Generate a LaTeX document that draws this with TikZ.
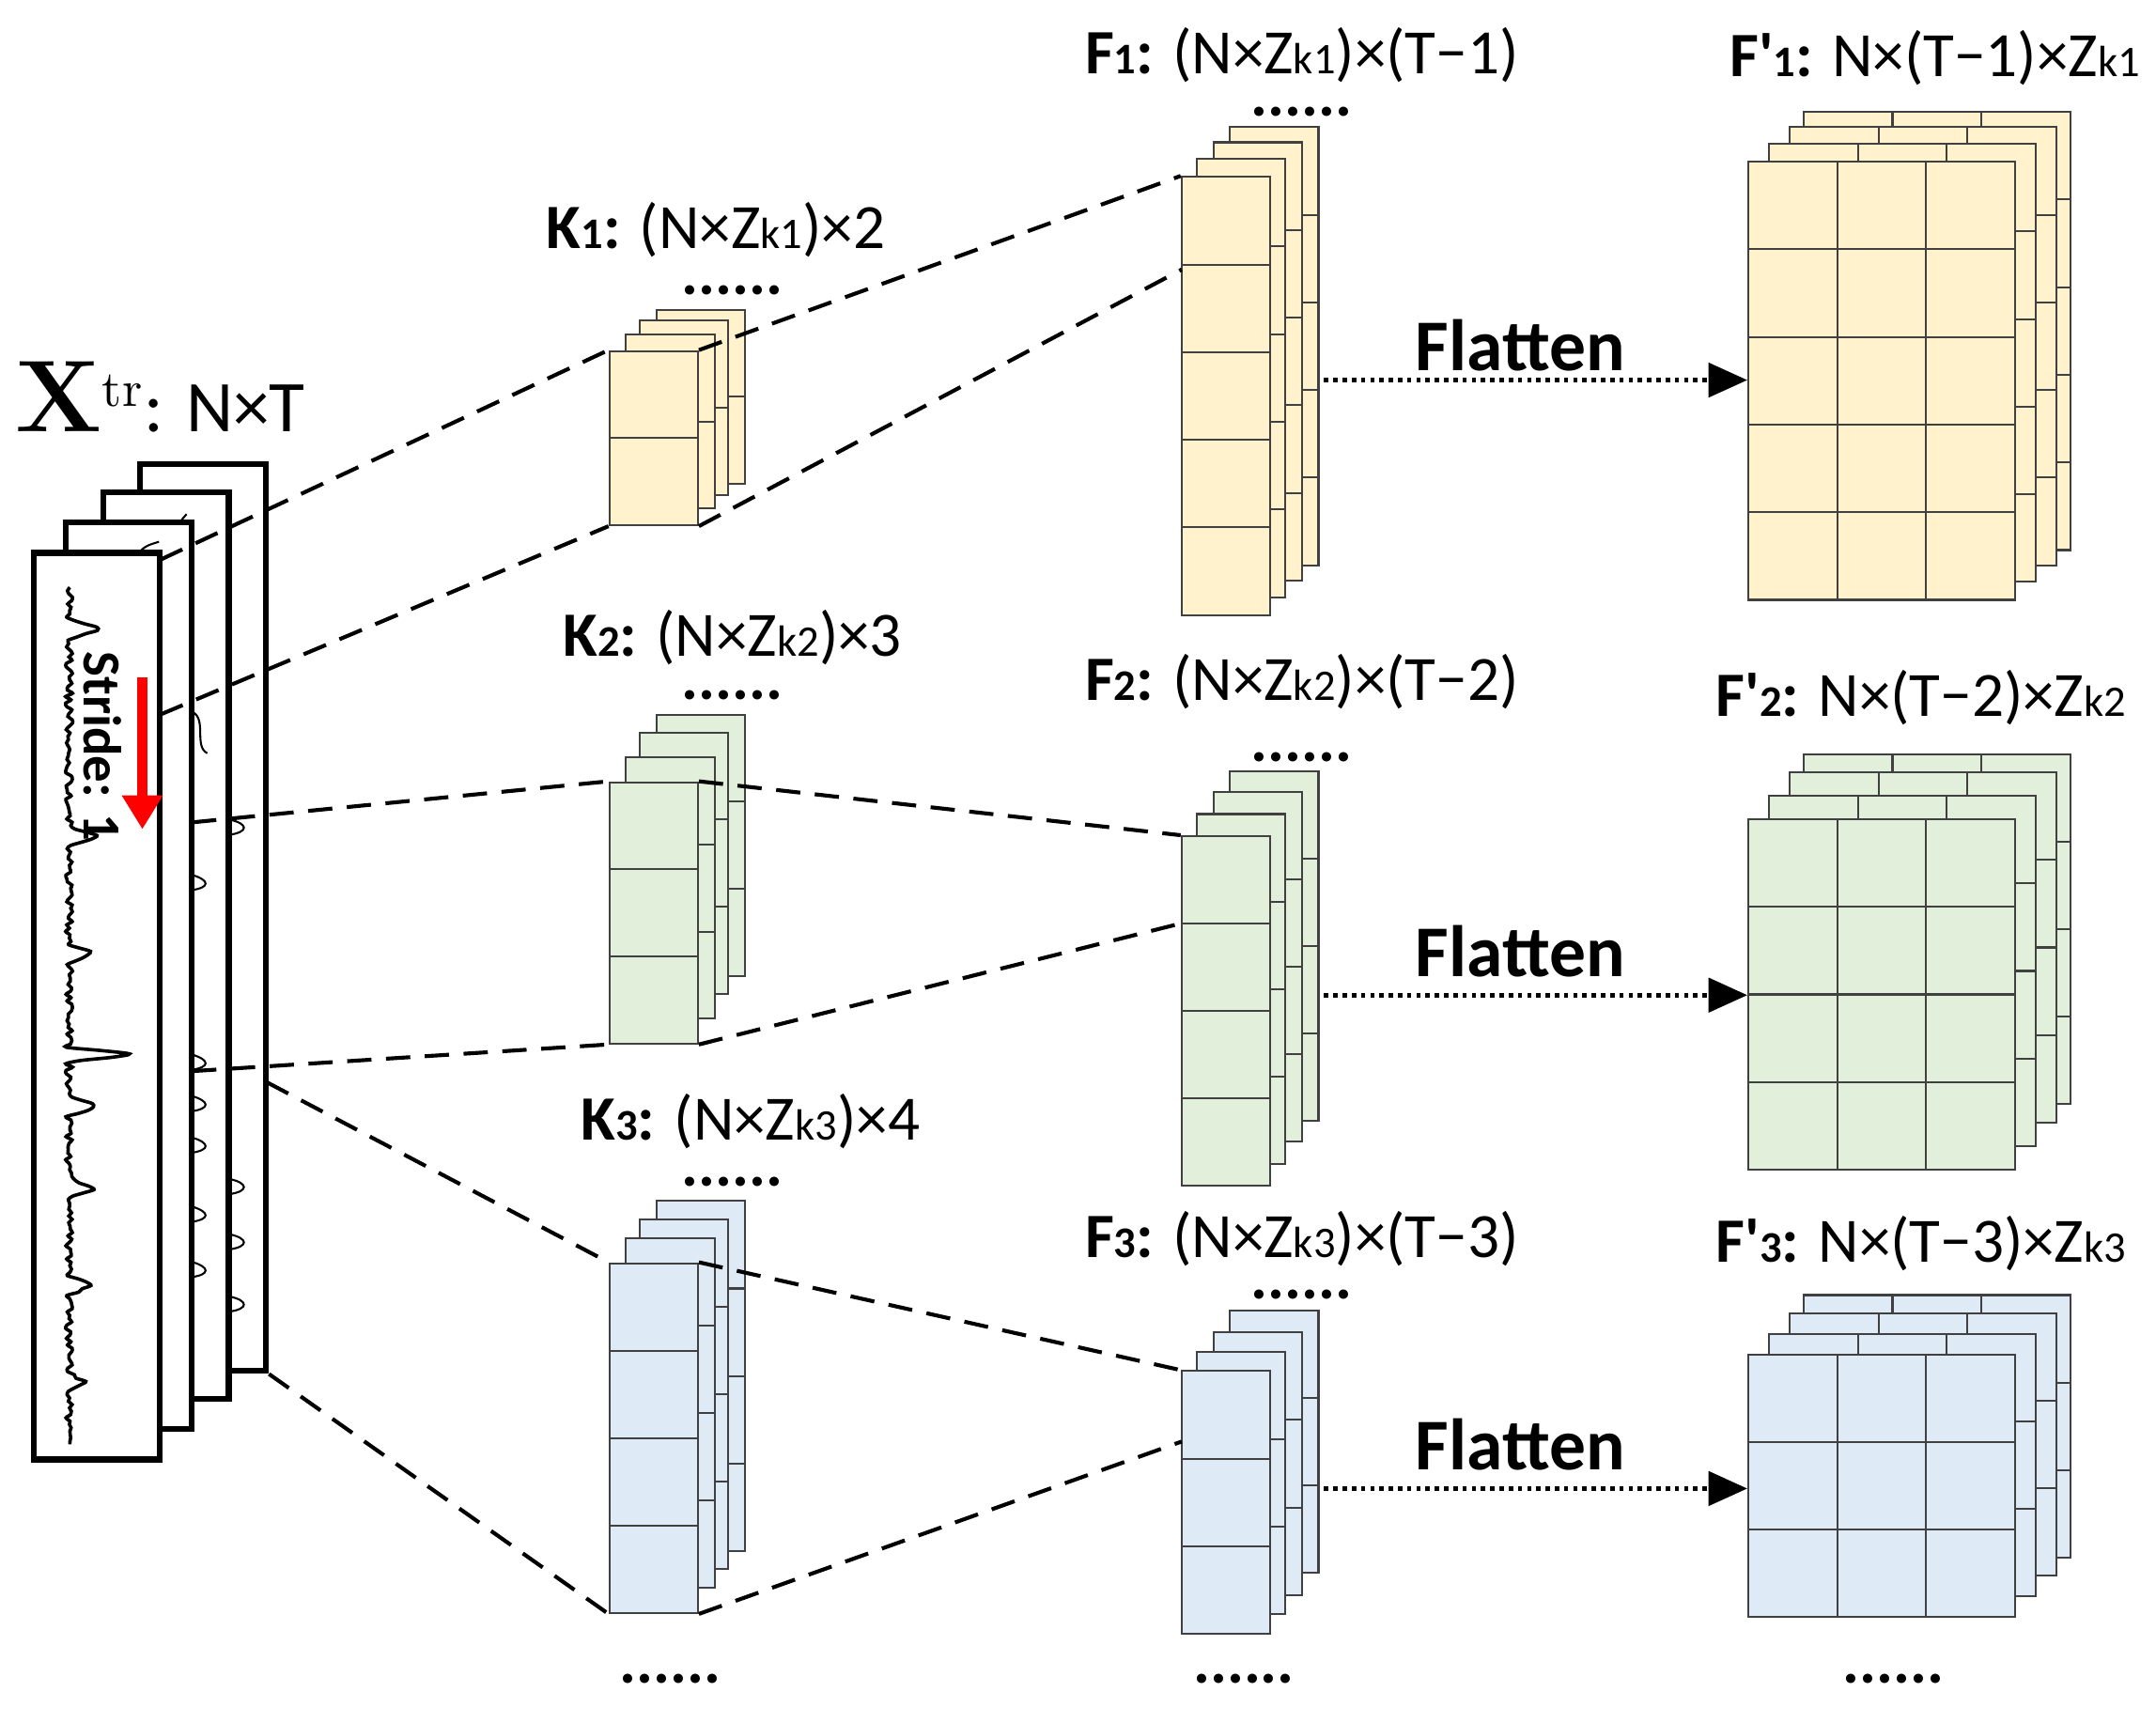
\documentclass[tikz,border=0pt]{standalone}
\usepackage[no-math]{fontspec}
\setmainfont{Carlito}
\newfontfamily\lmr{Latin Modern Roman}
\usetikzlibrary{arrows.meta}

\definecolor{kyellow}{HTML}{FFF2CC}
\definecolor{kgreen}{HTML}{E2EFDA}
\definecolor{kblue}{HTML}{DEEAF6}

\newcommand{\lowsub}[1]{{\fontsize{9}{10}\selectfont #1}}
\newcommand{\pr}{\textquotesingle}

\tikzset{
  page/.style={draw, line width=1.2pt, fill=white, inner sep=0pt, minimum width=9.1mm, minimum height=65.6mm},
  cell/.style={draw=black!75, line width=0.4pt},
  lbl/.style={font=\fontsize{13}{15}\selectfont, inner sep=0pt},
  dots/.style={font=\bfseries\fontsize{13}{15}\selectfont, inner sep=0pt},
  flat/.style={font=\bfseries\fontsize{15}{17}\selectfont, inner sep=0pt},
  conn/.style={line width=0.8pt, dash pattern=on 5pt off 3pt},
  flatarrow/.style={densely dotted, line width=0.9pt, -{Triangle[length=8pt,width=7pt]}}
}

% stack of cell sheets: name, x, y, w, h, cols, rows, fill, offsets
\newcommand{\sheetstack}[9]{%
  \foreach \dx/\dy in {#9}{
    \fill[#8] (#2+\dx,#3+\dy) rectangle ++(#4,#5);
    \foreach \c in {1,...,#6}
      \foreach \r in {1,...,#7}
        \draw[cell] ({#2+\dx+(\c-1)*#4/#6},{#3+\dy+(\r-1)*#5/#7}) rectangle ++({#4/#6},{#5/#7});
  }
  \node[inner sep=0pt, minimum width=#4*0.1mm, minimum height=#5*0.1mm] (#1) at ({#2+#4/2},{#3+#5/2}) {};
}

\begin{document}
\begin{tikzpicture}[x=0.1mm, y=-0.1mm]
\useasboundingbox (0,0) rectangle (1560,1246);

% input pages
\node[page] (x4) at (147,664) {};
\node[page] (x3) at (120,684) {};
\draw[thin] (120,400) .. controls (128,380) .. (135,372);
\foreach \yy in {600,860,900,945}
  \draw[thin] (166,\yy-7) .. controls (180,\yy-4) and (180,\yy+2) .. (166,\yy+4);
\node[page] (x2) at (93,706) {};
\draw[thin] (95,405) .. controls (105,395) .. (115,392);
\draw[thin] (139,515) .. controls (150,520) and (140,540) .. (150,545);
\foreach \yy in {640,770,800,830,880,920}
  \draw[thin] (139,\yy-7) .. controls (152,\yy-3) and (152,\yy+2) .. (139,\yy+4);
\node[page] (x1) at (70,728) {};
\pgfmathsetseed{7}
\draw[line width=0.7pt] plot[domain=425:1045, samples=260, smooth]
  ({50+2.5*rand+22*max(0,1-abs(\x-455)/7)+20*max(0,1-abs(\x-605)/7)
    +50*max(0,1-abs(\x-763)/5)+18*max(0,1-abs(\x-690)/7)+22*max(0,1-abs(\x-800)/7)
    +20*max(0,1-abs(\x-860)/7)+18*max(0,1-abs(\x-930)/7)+12*max(0,1-abs(\x-1000)/7)}, \x);
\node[rotate=-90, font=\bfseries\fontsize{11}{13}\selectfont, inner sep=0pt] (stride) at (74,540) {Stride: 1};
\coordinate (s0) at (103,490);
\coordinate (s1) at (103,600);
\draw[red, line width=2.2pt, -{Triangle[length=7pt,width=8pt]}] (s0) -- (s1);
\node[inner sep=0pt, font=\fontsize{15}{17}\selectfont] (xl) at (116,287)
  {{\lmr\bfseries\fontsize{21}{23}\selectfont X}\textsuperscript{\lmr tr}: N×T};

% kernels
\sheetstack{k1}{441}{254}{64}{126}{1}{2}{kyellow}{34/-30,22/-22,12/-12,0/0}
\sheetstack{k2}{441}{566}{64}{189}{1}{3}{kgreen}{34/-49,22/-36,12/-18,0/0}
\sheetstack{k3}{441}{914}{64}{253}{1}{4}{kblue}{34/-45,22/-32,12/-18,0/0}
\node[lbl] (k1l) at (518,166) {\textbf{K\lowsub{1}:} (N×Z\lowsub{k1})×2};
\node[lbl] (k2l) at (530,461) {\textbf{K\lowsub{2}:} (N×Z\lowsub{k2})×3};
\node[lbl] (k3l) at (543,811) {\textbf{K\lowsub{3}:} (N×Z\lowsub{k3})×4};
\node[dots] (k1d) at (530,210) {......};
\node[dots] (k2d) at (530,503) {......};
\node[dots] (k3d) at (530,855) {......};
\node[dots] (kd) at (485,1215) {......};

% feature maps
\sheetstack{f1}{855}{128}{64}{317}{1}{5}{kyellow}{35/-36,23/-25,11/-13,0/0}
\sheetstack{f2}{855}{605}{64}{253}{1}{4}{kgreen}{35/-47,23/-32,11/-16,0/0}
\sheetstack{f3}{855}{992}{64}{190}{1}{3}{kblue}{35/-44,23/-28,11/-14,0/0}
\node[lbl] (f1l) at (942,40) {\textbf{F\lowsub{1}:} (N×Z\lowsub{k1})×(T−1)};
\node[lbl] (f2l) at (942,493) {\textbf{F\lowsub{2}:} (N×Z\lowsub{k2})×(T−2)};
\node[lbl] (f3l) at (942,896) {\textbf{F\lowsub{3}:} (N×Z\lowsub{k3})×(T−3)};
\node[dots] (f1d) at (942,81) {......};
\node[dots] (f2d) at (942,548) {......};
\node[dots] (f3d) at (942,937) {......};
\node[dots] (fd) at (900,1215) {......};

% flattened maps
\sheetstack{g1}{1265}{117}{193}{317}{3}{5}{kyellow}{40/-36,30/-25,15/-13,0/0}
\sheetstack{g2}{1265}{593}{193}{253}{3}{4}{kgreen}{40/-47,30/-34,15/-17,0/0}
\sheetstack{g3}{1265}{980}{193}{190}{3}{3}{kblue}{40/-43,30/-30,15/-15,0/0}
\node[lbl] (g1l) at (1400,42) {\textbf{F\pr\lowsub{1}:} N×(T−1)×Z\lowsub{k1}};
\node[lbl] (g2l) at (1390,505) {\textbf{F\pr\lowsub{2}:} N×(T−2)×Z\lowsub{k2}};
\node[lbl] (g3l) at (1390,900) {\textbf{F\pr\lowsub{3}:} N×(T−3)×Z\lowsub{k3}};
\node[dots] (gd) at (1370,1215) {......};

% flatten arrows
\node[flat] (fl1) at (1100,250) {Flatten};
\node[flat] (fl2) at (1100,688) {Flatten};
\node[flat] (fl3) at (1100,1045) {Flatten};
\coordinate (a1) at (958,275);
\coordinate (a2) at (958,720);
\coordinate (a3) at (958,1077);
\draw[flatarrow] (a1) -- (g1.west |- a1);
\draw[flatarrow] (a2) -- (g2.west |- a2);
\draw[flatarrow] (a3) -- (g3.west |- a3);

% receptive field lines
\coordinate (xa) at (116,405);
\coordinate (xb) at (116,517);
\coordinate (xc) at (139,595);
\coordinate (xd) at (139,775);
\coordinate (xe) at (193,783);
\coordinate (f1b) at (855,195);
\coordinate (f2b) at (855,668);
\coordinate (f3b) at (855,1043);
\draw[conn] (xa) -- (k1.north west);
\draw[conn] (xb) -- (k1.south west);
\draw[conn] (xc) -- (k2.north west);
\draw[conn] (xd) -- (k2.south west);
\draw[conn] (xe) -- (k3.north west);
\draw[conn] (x4.south east) -- (k3.south west);
\draw[conn] (k1.north east) -- (f1.north west);
\draw[conn] (k1.south east) -- (f1b);
\draw[conn] (k2.north east) -- (f2.north west);
\draw[conn] (k2.south east) -- (f2b);
\draw[conn] (k3.north east) -- (f3.north west);
\draw[conn] (k3.south east) -- (f3b);
\end{tikzpicture}
\end{document}
